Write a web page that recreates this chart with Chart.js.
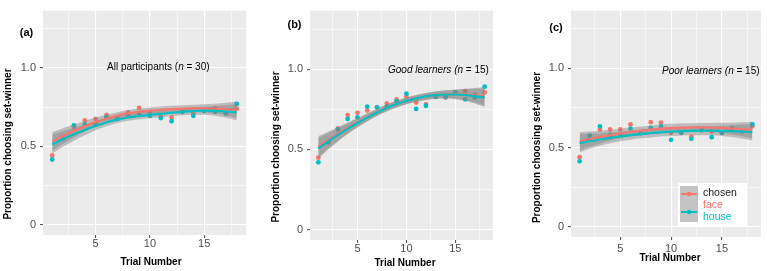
<!DOCTYPE html>
<html>
<head>
<meta charset="utf-8">
<script src="https://cdn.jsdelivr.net/npm/chart.js@4.4.1/dist/chart.umd.min.js"></script>
<style>
body{margin:0;background:#fff;}
#wrap{position:relative;width:767px;height:271px;overflow:hidden;}
canvas{position:absolute;top:0;}
</style>
</head>
<body>
<div id="wrap">
<canvas id="chartA" width="250" height="271" style="left:0px"></canvas>
<canvas id="chartB" width="229" height="271" style="left:268px"></canvas>
<canvas id="chartC" width="236" height="271" style="left:529px"></canvas>
</div>
<script>
const trials = [1,2,3,4,5,6,7,8,9,10,11,12,13,14,15,16,17,18];

// (a) all participants
const allFace  = [0.442,0.560,0.623,0.665,0.675,0.700,0.675,0.716,0.745,0.720,0.690,0.683,0.720,0.716,0.730,0.743,0.710,0.740];
const allHouse = [0.416,0.550,0.634,0.638,0.640,0.685,0.675,0.700,0.700,0.695,0.680,0.660,0.720,0.695,0.725,0.720,0.710,0.770];
const allFaceFit  = [0.531,0.566,0.598,0.628,0.655,0.677,0.696,0.710,0.720,0.727,0.733,0.737,0.740,0.742,0.742,0.740,0.737,0.733];
const allHouseFit = [0.514,0.547,0.577,0.604,0.630,0.652,0.670,0.684,0.693,0.700,0.707,0.714,0.720,0.724,0.727,0.726,0.722,0.717];
const allSE = [0.060,0.050,0.041,0.034,0.028,0.024,0.022,0.021,0.021,0.021,0.021,0.022,0.022,0.023,0.026,0.031,0.040,0.052];

// (b) good learners
const goodFace  = [0.448,0.545,0.631,0.714,0.728,0.742,0.762,0.786,0.812,0.830,0.792,0.782,0.827,0.823,0.853,0.863,0.839,0.855];
const goodHouse = [0.419,0.545,0.625,0.690,0.700,0.766,0.762,0.766,0.800,0.847,0.752,0.772,0.827,0.827,0.853,0.812,0.823,0.891];
const goodFaceFit  = [0.518,0.558,0.596,0.633,0.668,0.701,0.731,0.758,0.782,0.802,0.818,0.830,0.838,0.843,0.844,0.842,0.837,0.830];
const goodHouseFit = [0.506,0.550,0.590,0.628,0.664,0.698,0.730,0.758,0.782,0.802,0.818,0.830,0.838,0.842,0.842,0.839,0.832,0.822];
const goodSE = [0.065,0.052,0.042,0.034,0.028,0.024,0.022,0.021,0.021,0.021,0.021,0.022,0.023,0.025,0.029,0.036,0.046,0.058];

// (c) poor learners
const poorFace  = [0.439,0.573,0.614,0.614,0.614,0.646,0.590,0.660,0.658,0.593,0.593,0.569,0.610,0.600,0.593,0.624,0.604,0.634];
const poorHouse = [0.413,0.573,0.634,0.580,0.580,0.620,0.590,0.624,0.634,0.549,0.593,0.555,0.610,0.565,0.593,0.620,0.604,0.646];
const poorFaceFit  = [0.539,0.553,0.566,0.578,0.589,0.598,0.606,0.613,0.619,0.623,0.626,0.627,0.627,0.626,0.624,0.620,0.616,0.611];
const poorHouseFit = [0.528,0.540,0.551,0.561,0.570,0.578,0.585,0.591,0.596,0.600,0.603,0.605,0.606,0.606,0.605,0.604,0.601,0.597];
const poorSE = [0.058,0.048,0.040,0.034,0.030,0.028,0.027,0.027,0.027,0.027,0.027,0.027,0.028,0.029,0.032,0.037,0.044,0.052];

const xTicks = [2.5,5,7.5,10,12.5,15,17.5];
const yTicks = [0,0.25,0.5,0.75,1,1.25];
const yLabels = {"0":"0","0.5":"0.5","1":"1.0"};

const RED = "#F8766D";
const TEAL = "#00BFC4";
const RIBBON = "rgba(130,130,130,0.45)";
const FONT = "'Liberation Sans', Arial, Helvetica, sans-serif";

function pts(ys){
    return trials.map((t,i) => ({x:t, y:ys[i]}));
}

function band(fit, se, sign){
    return trials.map((t,i) => ({x:t, y:fit[i] + sign*se[i]}));
}

function isMajorY(v){
    return Math.abs(v*2 - Math.round(v*2)) < 1e-6;
}

const panelBg = {
    id:"panelBg",
    beforeDraw(chart){
        const {ctx, chartArea:a} = chart;
        ctx.save();
        ctx.fillStyle = "#EBEBEB";
        ctx.fillRect(a.left, a.top, a.right-a.left, a.bottom-a.top);
        ctx.restore();
    }
};

function drawRuns(ctx, runs, x, y){
    ctx.textBaseline = "middle";
    ctx.textAlign = "left";
    runs.forEach(r => {
        ctx.font = r.font;
        ctx.fillStyle = r.color || "#000";
        ctx.fillText(r.text, x, y);
        x += ctx.measureText(r.text).width;
    });
}

const texts = {
    id:"texts",
    afterDraw(chart, args, o){
        const ctx = chart.ctx;
        ctx.save();
        // y title
        ctx.translate(o.yTitle[0], o.yTitle[1]);
        ctx.rotate(-Math.PI/2);
        ctx.font = "bold 10px " + FONT;
        ctx.fillStyle = "#000";
        ctx.textAlign = "center";
        ctx.textBaseline = "middle";
        ctx.fillText("Proportion choosing set-winner", 0, 0);
        ctx.restore();

        ctx.save();
        ctx.font = "bold 10px " + FONT;
        ctx.fillStyle = "#000";
        ctx.textAlign = "center";
        ctx.textBaseline = "middle";
        ctx.fillText("Trial Number", o.xTitle[0], o.xTitle[1]);
        ctx.font = "bold 11px " + FONT;
        ctx.fillText(o.tag, o.tagPos[0], o.tagPos[1]);
        drawRuns(ctx, o.note, o.notePos[0], o.notePos[1]);

        if(o.legend){
            const [lx, ly] = o.legend;
            ctx.fillStyle = "#fff";
            ctx.fillRect(lx, ly, 69, 44);
            ctx.fillStyle = "#C4C4C4";
            ctx.fillRect(lx+2, ly+3, 18, 36);
            [[RED, ly+11], [TEAL, ly+29]].forEach(([c, yy]) => {
                ctx.strokeStyle = c;
                ctx.lineWidth = 2;
                ctx.beginPath();
                ctx.moveTo(lx+3, yy);
                ctx.lineTo(lx+19, yy);
                ctx.stroke();
                ctx.fillStyle = c;
                ctx.beginPath();
                ctx.arc(lx+11, yy, 2.2, 0, Math.PI*2);
                ctx.fill();
            });
            drawRuns(ctx, [{text:"chosen", font:"10.5px "+FONT, color:"#1a1a1a"}], lx+25, ly+10);
            drawRuns(ctx, [{text:"face", font:"10.5px "+FONT, color:RED}], lx+25, ly+22);
            drawRuns(ctx, [{text:"house", font:"10.5px "+FONT, color:TEAL}], lx+25, ly+34);
        }
        ctx.restore();
    }
};

function makeChart(id, p){
    const line = (data, color) => ({
        data, borderColor:color, borderWidth:2.2, pointRadius:0, fill:false,
        cubicInterpolationMode:"monotone"
    });
    const edge = (data, fill) => ({
        data, borderColor:"rgba(0,0,0,0)", borderWidth:0, pointRadius:0,
        fill, backgroundColor:RIBBON, cubicInterpolationMode:"monotone"
    });
    const dots = (data, color) => ({
        data, showLine:false, pointRadius:2.4, pointBackgroundColor:color,
        pointBorderWidth:0, borderColor:color
    });

    return new Chart(document.getElementById(id), {
        type:"line",
        data:{
            datasets:[
                line(pts(p.houseFit), TEAL),
                line(pts(p.faceFit), RED),
                edge(band(p.houseFit, p.se, 1), 3),
                edge(band(p.houseFit, p.se, -1), false),
                edge(band(p.faceFit, p.se, 1), 5),
                edge(band(p.faceFit, p.se, -1), false),
                dots(pts(p.house), TEAL),
                dots(pts(p.face), RED)
            ]
        },
        options:{
            responsive:false,
            animation:false,
            events:[],
            layout:{padding:{top:p.top, left:0, right:p.right || 0, bottom:0}},
            plugins:{
                legend:{display:false},
                tooltip:{enabled:false},
                texts:p.texts
            },
            scales:{
                x:{
                    type:"linear",
                    min:0.15,
                    max:18.85,
                    afterBuildTicks: s => { s.ticks = xTicks.map(v => ({value:v})); },
                    afterFit: s => { s.height = p.xHeight; },
                    border:{display:false},
                    grid:{
                        color:"#fff",
                        lineWidth: c => c.tick && c.tick.value % 5 === 0 ? 1.1 : 0.55,
                        tickColor: c => c.tick && c.tick.value % 5 === 0 ? "#555" : "rgba(0,0,0,0)",
                        tickLength:3
                    },
                    ticks:{
                        autoSkip:false,
                        maxRotation:0,
                        padding:p.xPad,
                        color:"#4D4D4D",
                        font:{family:FONT, size:11},
                        callback: v => v % 5 === 0 ? String(v) : ""
                    }
                },
                y:{
                    type:"linear",
                    min:-0.065,
                    max:1.365,
                    afterBuildTicks: s => { s.ticks = yTicks.map(v => ({value:v})); },
                    afterFit: s => { s.width = p.yWidth; },
                    border:{display:false},
                    grid:{
                        color:"#fff",
                        lineWidth: c => c.tick && isMajorY(c.tick.value) ? 1.1 : 0.55,
                        tickColor: c => c.tick && isMajorY(c.tick.value) ? "#555" : "rgba(0,0,0,0)",
                        tickLength:3
                    },
                    ticks:{
                        autoSkip:false,
                        padding:4,
                        color:"#4D4D4D",
                        font:{family:FONT, size:11},
                        callback: v => yLabels[String(v)] || ""
                    }
                }
            }
        },
        plugins:[panelBg, texts]
    });
}

makeChart("chartA", {
    face:allFace, house:allHouse, faceFit:allFaceFit, houseFit:allHouseFit, se:allSE,
    top:5, yWidth:43, xHeight:36, xPad:-1,
    texts:{
        yTitle:[8,144], xTitle:[151,262], tag:"(a)", tagPos:[26.5,33],
        notePos:[107,67],
        note:[
            {text:"All participants (", font:"10px "+FONT},
            {text:"n", font:"italic 10px "+FONT},
            {text:" = 30)", font:"10px "+FONT}
        ]
    }
});

makeChart("chartB", {
    face:goodFace, house:goodHouse, faceFit:goodFaceFit, houseFit:goodHouseFit, se:goodSE,
    top:4, yWidth:42, xHeight:31, xPad:-1,
    texts:{
        yTitle:[8,147], xTitle:[137,263], tag:"(b)", tagPos:[26.5,25],
        notePos:[120,70],
        note:[
            {text:"Good learners (", font:"italic 10px "+FONT},
            {text:"n", font:"italic 10px "+FONT},
            {text:" = 15)", font:"10px "+FONT}
        ]
    }
});

makeChart("chartC", {
    face:poorFace, house:poorHouse, faceFit:poorFaceFit, houseFit:poorHouseFit, se:poorSE,
    top:2, yWidth:42, xHeight:34, xPad:2, right:1,
    texts:{
        yTitle:[8,147.5], xTitle:[141,258], tag:"(c)", tagPos:[27,28],
        notePos:[133,71],
        note:[
            {text:"Poor learners (", font:"italic 10px "+FONT},
            {text:"n", font:"italic 10px "+FONT},
            {text:" = 15)", font:"10px "+FONT}
        ],
        legend:[149,183]
    }
});
</script>
</body>
</html>
